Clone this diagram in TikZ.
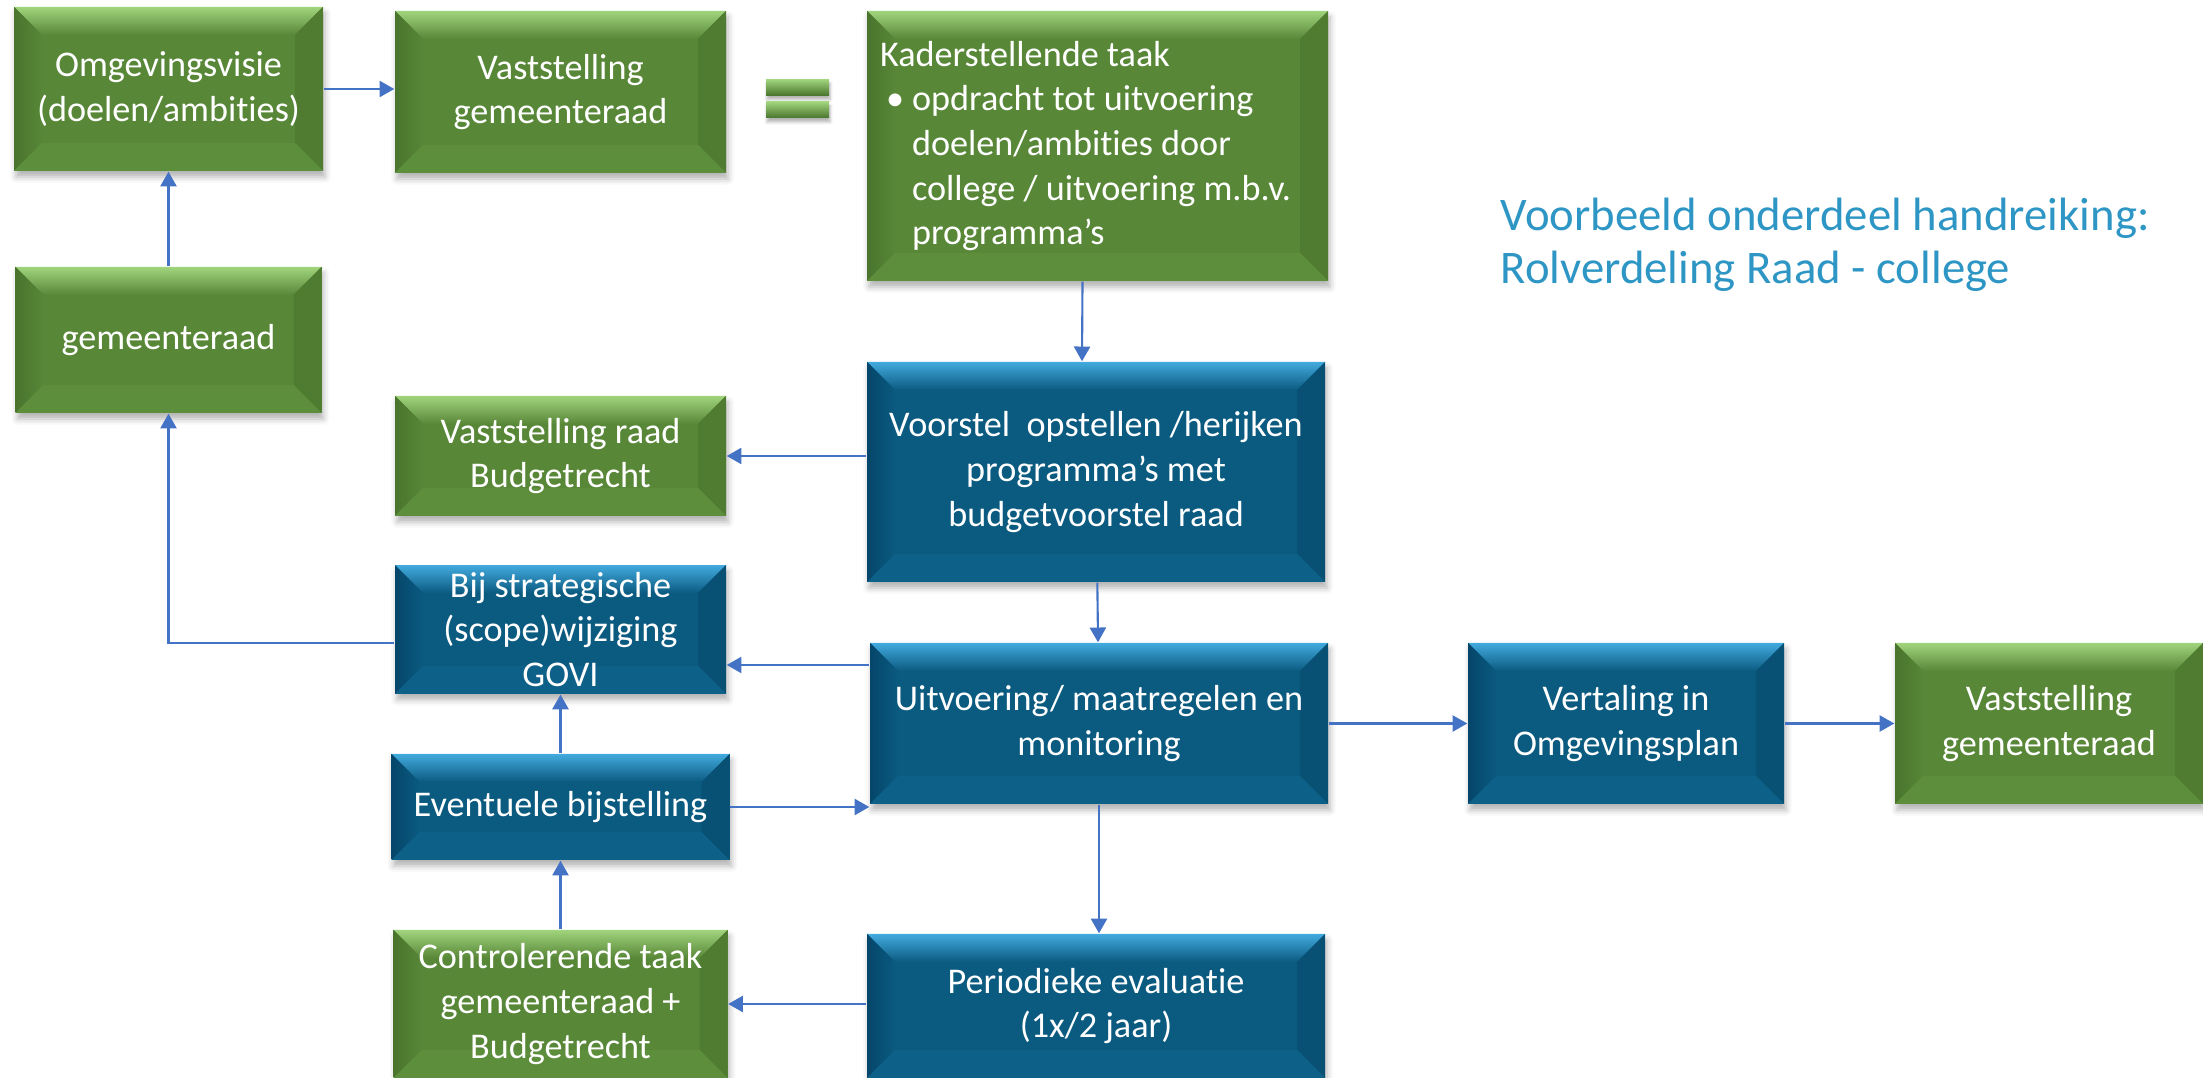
\documentclass[tikz,border=0pt]{standalone}
\usepackage{fontspec}
\setmainfont{Carlito}[Ligatures=NoCommon]
\usepackage{tikz}
\usetikzlibrary{calc}
\usetikzlibrary{arrows.meta, shadows.blur}

\definecolor{grmain}{RGB}{88,135,56}
\definecolor{grtop}{RGB}{160,212,124}
\definecolor{grleft}{RGB}{74,116,45}
\definecolor{grright}{RGB}{80,124,50}
\definecolor{grbot}{RGB}{92,142,60}
\definecolor{blmain}{RGB}{11,90,128}
\definecolor{bltop}{RGB}{66,170,222}
\definecolor{blleft}{RGB}{5,70,106}
\definecolor{blright}{RGB}{8,80,116}
\definecolor{blbot}{RGB}{13,96,136}
\definecolor{arrblue}{RGB}{68,114,196}
\definecolor{titleblue}{RGB}{46,150,196}

\newcommand{\bevdepth}{0.28}
\newcommand{\boxfont}{\fontsize{10.3}{12.7}\selectfont}
\newcommand{\boxbevel}[1]{%
  \coordinate (bsw) at (path picture bounding box.south west);
  \coordinate (bne) at (path picture bounding box.north east);
  \coordinate (bnw) at (path picture bounding box.north west);
  \coordinate (bse) at (path picture bounding box.south east);
  \shade[top color=#1top, bottom color=#1main] (bnw) -- (bne) -- ++(-\bevdepth,-\bevdepth) -- ($(bnw)+(\bevdepth,-\bevdepth)$) -- cycle;
  \shade[left color=#1left, right color=#1main] (bsw) -- (bnw) -- ++(\bevdepth,-\bevdepth) -- ($(bsw)+(\bevdepth,\bevdepth)$) -- cycle;
  \fill[#1right] (bse) -- (bne) -- ++(-\bevdepth,-\bevdepth) -- ($(bse)+(-\bevdepth,\bevdepth)$) -- cycle;
  \fill[#1bot] (bsw) -- (bse) -- ++(-\bevdepth,\bevdepth) -- ($(bsw)+(\bevdepth,\bevdepth)$) -- cycle;
}

\begin{document}
\begin{tikzpicture}[>={Triangle[length=4.2pt,width=4.6pt]}, align=center,
  box/.style={rectangle, inner sep=2pt, text=white, font=\boxfont, blur shadow={shadow xshift=0.02cm, shadow yshift=-0.06cm, shadow blur radius=0.06cm, shadow opacity=30}},
  greenbox/.style={box, fill=grmain, path picture={\boxbevel{gr}}},
  bluebox/.style={box, fill=blmain, path picture={\boxbevel{bl}}},
  eqbar/.style={rectangle, inner sep=0pt, minimum width=0.63cm, minimum height=0.16cm, top color=grtop, middle color=grmain, bottom color=grleft, blur shadow={shadow xshift=0.01cm, shadow yshift=-0.04cm, shadow blur radius=0.03cm, shadow opacity=30}},
  conn/.style={draw=arrblue, line width=0.6pt}]
  \useasboundingbox (0,0) rectangle (22.03,-10.78);

  % top row
  \node[greenbox, minimum width=3.09cm, minimum height=1.64cm] (omg)   at (1.685,-0.89) {Omgevingsvisie\\(doelen/ambities)};
  \node[greenbox, minimum width=3.31cm, minimum height=1.62cm] (vast1) at (5.605,-0.92) {Vaststelling\\gemeenteraad};
  \node[eqbar] (eqa) at (7.975,-0.875) {};
  \node[eqbar] (eqb) at (7.975,-1.10) {};
  \node[greenbox, minimum width=4.61cm, minimum height=2.70cm, text width=4.35cm, align=flush left] (kader) at (10.975,-1.46)
    {Kaderstellende taak\\
     \makebox[0.32cm][l]{\hspace{0.06cm}\textbullet}opdracht tot uitvoering\\
     \hspace*{0.32cm}doelen/ambities door\\
     \hspace*{0.32cm}college / uitvoering m.b.v.\\
     \hspace*{0.32cm}programma’s};
  \node[text=titleblue, font=\fontsize{13.3}{15.1}\selectfont, align=left, anchor=west, inner sep=0pt] (title) at (15.0,-2.445)
    {Voorbeeld onderdeel handreiking:\\Rolverdeling Raad - college};

  % left column
  \node[greenbox, minimum width=3.06cm, minimum height=1.46cm] (gem)   at (1.685,-3.40) {gemeenteraad};
  \node[greenbox, minimum width=3.31cm, minimum height=1.20cm] (vraad) at (5.605,-4.56) {Vaststelling raad\\Budgetrecht};
  \node[bluebox,  minimum width=3.31cm, minimum height=1.21cm] (bij)   at (5.605,-6.295) {Bij strategische\\(scope)wijziging\\GOVI};
  \node[bluebox,  minimum width=3.38cm, minimum height=1.06cm] (even)  at (5.605,-8.07) {Eventuele bijstelling};
  \node[greenbox, minimum width=3.34cm, minimum height=1.48cm] (contr) at (5.605,-10.04) {Controlerende taak\\gemeenteraad +\\Budgetrecht};

  % middle column
  \node[bluebox, minimum width=4.58cm, minimum height=2.20cm] (voorstel) at (10.96,-4.72) {Voorstel\ \ opstellen /herijken\\programma’s met\\budgetvoorstel raad};
  \node[bluebox, minimum width=4.58cm, minimum height=1.61cm] (uitv)     at (10.99,-7.235) {Uitvoering/ maatregelen en\\monitoring};
  \node[bluebox, minimum width=4.58cm, minimum height=1.44cm] (period)   at (10.96,-10.06) {Periodieke evaluatie\\(1x/2 jaar)};

  % right row
  \node[bluebox,  minimum width=3.16cm, minimum height=1.61cm] (vert)  at (16.26,-7.235) {Vertaling in\\Omgevingsplan};
  \node[greenbox, minimum width=3.08cm, minimum height=1.61cm] (vast2) at (20.49,-7.235) {Vaststelling\\gemeenteraad};

  \coordinate (bijin)  at ([yshift=-0.355cm]bij.east);
  \coordinate (bijout) at ([yshift=-0.135cm]bij.west);

  \path[->, every edge/.style={conn}]
        (omg.east) edge (omg.east -| vast1.west)
        (gem) edge (omg)
        ([xshift=-0.15cm]kader.south) edge ([xshift=-0.14cm]voorstel.north)
        (voorstel.west |- vraad) edge (vraad.east)
        (voorstel) edge (uitv)
        (uitv.west |- bijin) edge (bijin)
        (even) edge (bij)
        (even.east) edge (even.east -| uitv.west)
        (contr) edge (even)
        (period.west |- contr) edge (contr.east)
        (uitv.south) edge (uitv.south |- period.north)
        (uitv.east) edge (vert.west)
        (vert.east) edge (vast2.west)
        ;
  \draw[->, conn] (bijout) -| (gem.south);
\end{tikzpicture}
\end{document}
